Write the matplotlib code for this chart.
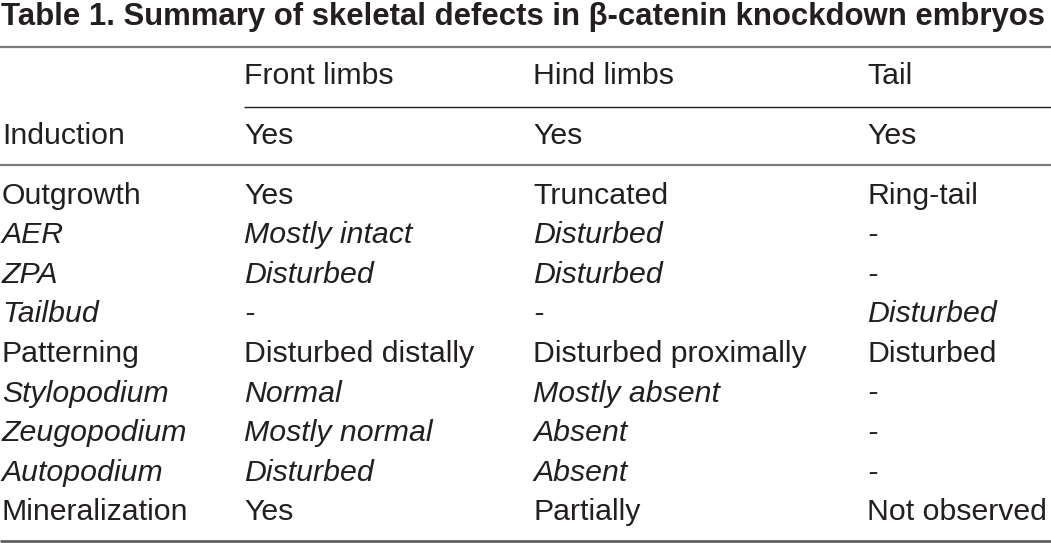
import matplotlib
matplotlib.use("Agg")
import matplotlib.pyplot as plt

title = "Table 1. Summary of skeletal defects in β-catenin knockdown embryos"
columns = ["Front limbs", "Hind limbs", "Tail"]
induction = ["Induction", "Yes", "Yes", "Yes"]
row_labels = ["Outgrowth", "AER", "ZPA", "Tailbud", "Patterning",
              "Stylopodium", "Zeugopodium", "Autopodium", "Mineralization"]
front_limbs = ["Yes", "Mostly intact", "Disturbed", "-", "Disturbed distally",
               "Normal", "Mostly normal", "Disturbed", "Yes"]
hind_limbs = ["Truncated", "Disturbed", "Disturbed", "-", "Disturbed proximally",
              "Mostly absent", "Absent", "Absent", "Partially"]
tail = ["Ring-tail", "-", "-", "Disturbed", "Disturbed",
        "-", "-", "-", "Not observed"]
italic_rows = [False, True, True, True, False, True, True, True, False]

W, H = 1051, 543
fig = plt.figure(figsize=(W / 100, H / 100), dpi=100)
ax = fig.add_axes([0, 0, 1, 1])
ax.set_xlim(0, W)
ax.set_ylim(H, 0)
ax.axis("off")

txt = "#231f20"
fam = "Liberation Sans"
fs = 21.8
col_x = [2, 244, 533, 867]

ax.text(1, 25, title, fontsize=22.4, fontweight="bold", family=fam,
        color=txt, va="baseline", ha="left")

ax.plot([0, W], [47, 47], color="#7a7a7a", lw=1.6, solid_capstyle="butt")
ax.plot([244, W], [107, 107], color="#231f20", lw=1.0, solid_capstyle="butt")
ax.plot([0, W], [165, 165], color="#7a7a7a", lw=1.6, solid_capstyle="butt")
ax.plot([0, W], [540.5, 540.5], color="#606060", lw=2.0, solid_capstyle="butt")

for x, c in zip(col_x[1:], columns):
    ax.text(x, 84, c, fontsize=fs, family=fam, color=txt, va="baseline")
for x, c in zip(col_x, induction):
    ax.text(x, 144, c, fontsize=fs, family=fam, color=txt, va="baseline")

y0, pitch = 203.5, 39.6
for i, lab in enumerate(row_labels):
    y = y0 + i * pitch
    style = "italic" if italic_rows[i] else "normal"
    vals = [lab, front_limbs[i], hind_limbs[i], tail[i]]
    for x, v in zip(col_x, vals):
        ax.text(x, y, v, fontsize=fs, family=fam, color=txt,
                va="baseline", style=style)

fig.savefig("out.png", dpi=100)
